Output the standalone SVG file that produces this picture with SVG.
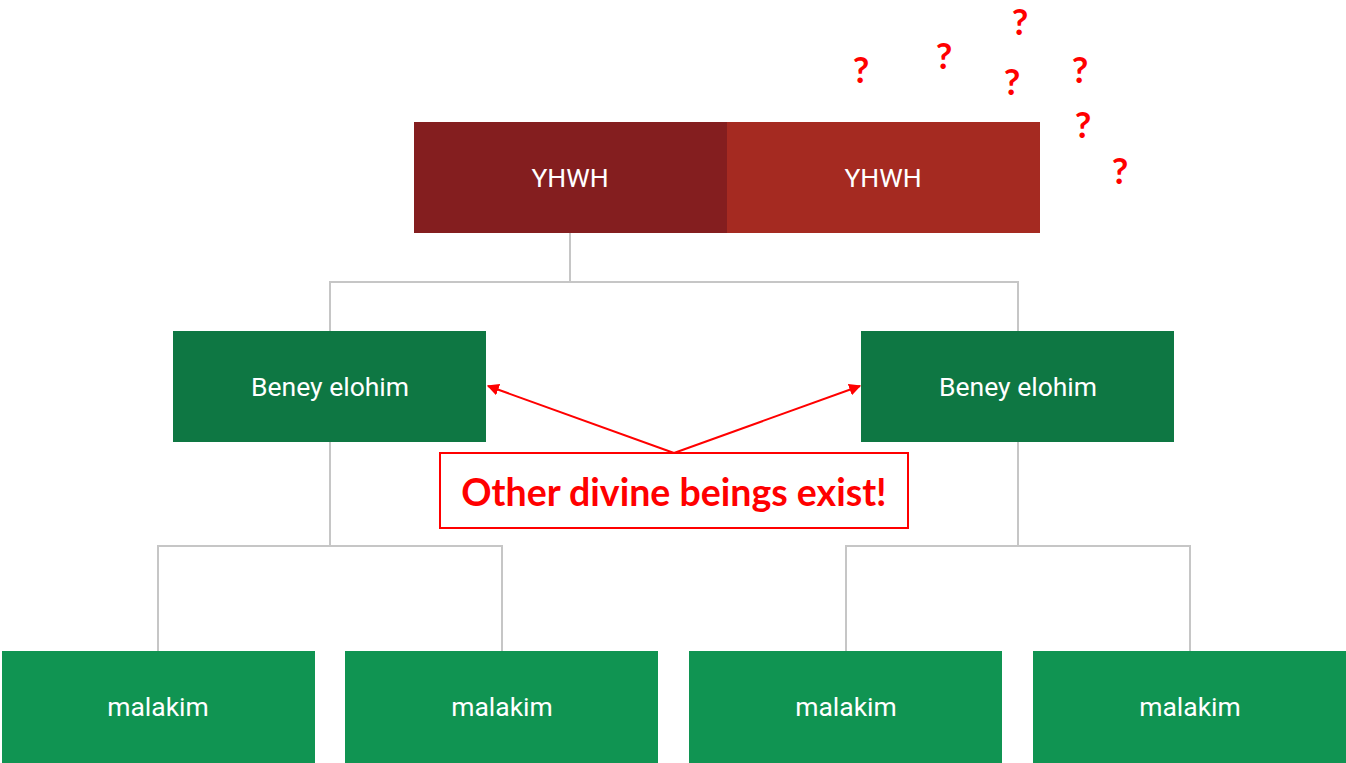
<svg xmlns="http://www.w3.org/2000/svg" width="1346" height="763" viewBox="0 0 1346 763">
  <defs>
    <style>
      .lbl { font-family: Roboto, "Liberation Sans", sans-serif; font-size: 26.5px; fill: #ffffff; text-anchor: middle; }
      .tree { fill: none; stroke: #c6c6c6; stroke-width: 2; }
      .note { fill: none; stroke: #ff0000; stroke-width: 2; }
      .q { font-family: Lato, "Liberation Sans", sans-serif; font-weight: bold; font-size: 36px; fill: #ff0000; text-anchor: middle; }
      .beney { fill: #0e7743; }
      .mal { fill: #109452; }
    </style>
    <marker id="arrow" viewBox="0 0 10 10" refX="9" refY="5" markerWidth="6" markerHeight="6" orient="auto-start-reverse" markerUnits="strokeWidth">
      <path d="M0,0 L10,5 L0,10 z" fill="#ff0000"/>
    </marker>
  </defs>
  <rect width="1346" height="763" fill="#ffffff"/>

  <g id="connectors">
    <path class="tree" d="M570,233 V282 M330,331 V282 H1018 V331"/>
    <path class="tree" d="M330,442 V546 M158,651 V546 H502 V651"/>
    <path class="tree" d="M1018,442 V546 M846,651 V546 H1190 V651"/>
    <line class="note" x1="674" y1="453" x2="488" y2="386" marker-end="url(#arrow)"/>
    <line class="note" x1="674" y1="453" x2="860" y2="386" marker-end="url(#arrow)"/>
  </g>

  <g id="yhwh-1">
    <rect x="414" y="122" width="313" height="111" fill="#841e1f"/>
    <text class="lbl" x="570" y="187">YHWH</text>
  </g>
  <g id="yhwh-2">
    <rect x="727" y="122" width="313" height="111" fill="#a52a21"/>
    <text class="lbl" x="883" y="187">YHWH</text>
  </g>

  <g id="beney-1">
    <rect class="beney" x="173" y="331" width="313" height="111"/>
    <text class="lbl" x="330" y="396">Beney elohim</text>
  </g>
  <g id="beney-2">
    <rect class="beney" x="861" y="331" width="313" height="111"/>
    <text class="lbl" x="1018" y="396">Beney elohim</text>
  </g>

  <g id="malakim-1">
    <rect class="mal" x="2" y="651" width="313" height="112"/>
    <text class="lbl" x="158" y="716">malakim</text>
  </g>
  <g id="malakim-2">
    <rect class="mal" x="345" y="651" width="313" height="112"/>
    <text class="lbl" x="502" y="716">malakim</text>
  </g>
  <g id="malakim-3">
    <rect class="mal" x="689" y="651" width="313" height="112"/>
    <text class="lbl" x="846" y="716">malakim</text>
  </g>
  <g id="malakim-4">
    <rect class="mal" x="1033" y="651" width="313" height="112"/>
    <text class="lbl" x="1190" y="716">malakim</text>
  </g>

  <g id="note">
    <rect x="440" y="453" width="468" height="75" fill="#ffffff" stroke="#ff0000" stroke-width="2"/>
    <text x="674" y="506" font-family="Lato, 'Liberation Sans', sans-serif" font-weight="bold" font-size="37.5" fill="#ff0000" text-anchor="middle">Other divine beings exist!</text>
  </g>

  <g id="questions">
    <text class="q" x="861" y="83">?</text>
    <text class="q" x="944" y="69">?</text>
    <text class="q" x="1020" y="35">?</text>
    <text class="q" x="1012" y="95">?</text>
    <text class="q" x="1080" y="83">?</text>
    <text class="q" x="1083" y="138">?</text>
    <text class="q" x="1120" y="184">?</text>
  </g>
</svg>
